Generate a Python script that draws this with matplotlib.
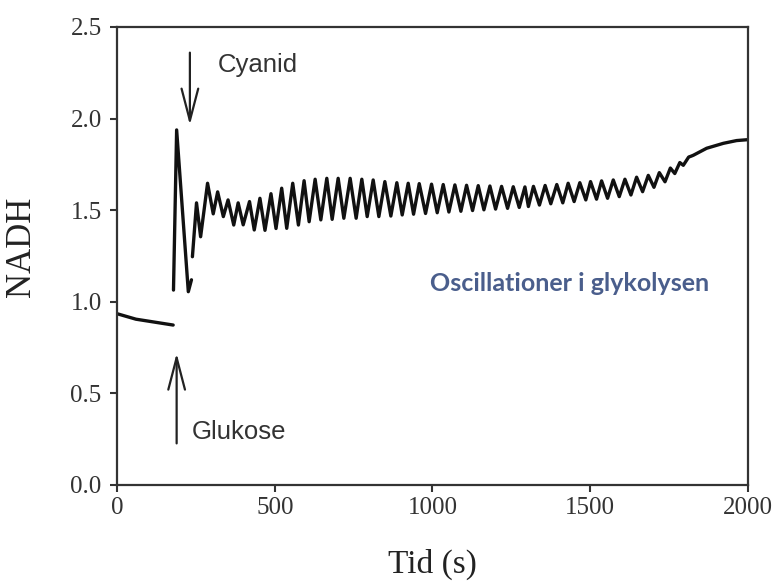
import matplotlib
matplotlib.use("Agg")
import matplotlib.pyplot as plt

# ---- data ----
pre_t = [0, 60, 178]
pre_v = [0.935, 0.905, 0.873]

spike_t = [179, 189, 226, 236]
spike_v = [1.064, 1.938, 1.055, 1.12]

osc_t = [239, 252, 265, 287, 305, 319, 337, 352, 370, 384, 400, 420, 435, 453,
         469, 488, 504, 522, 538, 557, 575, 593, 609, 628, 646, 665, 682, 701,
         719, 739, 758, 776, 793, 812, 830, 849, 868, 887, 904, 923, 940, 958,
         978, 997, 1015, 1034, 1052, 1071, 1090, 1108, 1127, 1145, 1163, 1182,
         1200, 1219, 1238, 1256, 1275, 1293, 1304, 1320, 1339, 1357, 1375, 1394,
         1413, 1430, 1449, 1467, 1486, 1501, 1520, 1536, 1555, 1573, 1592, 1610,
         1629, 1647, 1666, 1684, 1702, 1719, 1737, 1754, 1768, 1784, 1795, 1812,
         1820, 1827, 1869, 1922, 1964, 2000]
osc_v = [1.246, 1.54, 1.355, 1.647, 1.48, 1.60, 1.465, 1.556, 1.419, 1.54, 1.42,
         1.547, 1.392, 1.565, 1.39, 1.59, 1.40, 1.62, 1.401, 1.647, 1.419, 1.661,
         1.437, 1.669, 1.447, 1.674, 1.450, 1.674, 1.456, 1.674, 1.456, 1.669,
         1.465, 1.665, 1.465, 1.656, 1.468, 1.650, 1.474, 1.647, 1.478, 1.645,
         1.482, 1.642, 1.486, 1.640, 1.490, 1.638, 1.494, 1.636, 1.498, 1.634,
         1.502, 1.632, 1.506, 1.630, 1.510, 1.628, 1.515, 1.627, 1.52, 1.630,
         1.528, 1.635, 1.535, 1.640, 1.540, 1.647, 1.547, 1.650, 1.556, 1.656,
         1.560, 1.660, 1.565, 1.665, 1.574, 1.669, 1.583, 1.680, 1.601, 1.690,
         1.625, 1.705, 1.655, 1.730, 1.700, 1.760, 1.745, 1.790, 1.795, 1.800,
         1.838, 1.865, 1.880, 1.885]

x_ticks = [0, 500, 1000, 1500, 2000]
y_ticks = [0.0, 0.5, 1.0, 1.5, 2.0, 2.5]
y_ticklabels = ["0.0", "0.5", "1.0", "1.5", "2.0", "2.5"]

# ---- figure ----
fig = plt.figure(figsize=(7.78, 5.88), dpi=100)
ax = fig.add_axes([0.1504, 0.1752, 0.8110, 0.7789])

line_kw = dict(color="#111111", lw=2.4, solid_joinstyle="round", solid_capstyle="round")
ax.plot(pre_t, pre_v, **line_kw)
ax.plot(spike_t, spike_v, **line_kw)
ax.plot(osc_t, osc_v, **line_kw)

ax.set_xlim(0, 2000)
ax.set_ylim(0, 2.5)
ax.set_xticks(x_ticks)
ax.set_yticks(y_ticks)
ax.set_yticklabels(y_ticklabels)

serif = ["Liberation Serif", "DejaVu Serif"]
for lab in ax.get_xticklabels() + ax.get_yticklabels():
    lab.set_fontfamily(serif)
    lab.set_fontsize(18)
    lab.set_color("#333333")

ax.tick_params(direction="out", length=5, width=1.5, color="#333333")
ax.tick_params(axis="x", pad=4)
ax.tick_params(axis="y", pad=6)
for s in ax.spines.values():
    s.set_linewidth(1.6)
    s.set_color("#333333")

ax.set_xlabel("Tid (s)", fontfamily=serif, fontsize=24, color="#222222")
ax.set_ylabel("NADH", fontfamily=serif, fontsize=25, color="#222222")
ax.xaxis.set_label_coords(0.5, -0.14)
ax.yaxis.set_label_coords(-0.125, 0.52)

sans = ["Liberation Sans", "DejaVu Sans"]
arrow_kw = dict(arrowstyle="->,head_length=1.15,head_width=0.3", lw=1.6,
                color="#222222", mutation_scale=20, shrinkA=0, shrinkB=0)
ax.annotate("", xy=(231, 1.965), xytext=(231, 2.36), arrowprops=arrow_kw)
ax.annotate("", xy=(189, 0.719), xytext=(189, 0.227), arrowprops=arrow_kw)

ax.text(320, 2.29, "Cyanid", fontfamily=sans, fontsize=18.5, color="#333333",
        va="center", ha="left")
ax.text(238, 0.29, "Glukose", fontfamily=sans, fontsize=18.5, color="#333333",
        va="center", ha="left")
ax.text(992, 1.10, "Oscillationer i glykolysen", fontfamily=["Lato", "DejaVu Sans"],
        fontweight="bold", fontsize=18, color="#4a5e8c", va="center", ha="left")

fig.savefig("out.png", dpi=100)
